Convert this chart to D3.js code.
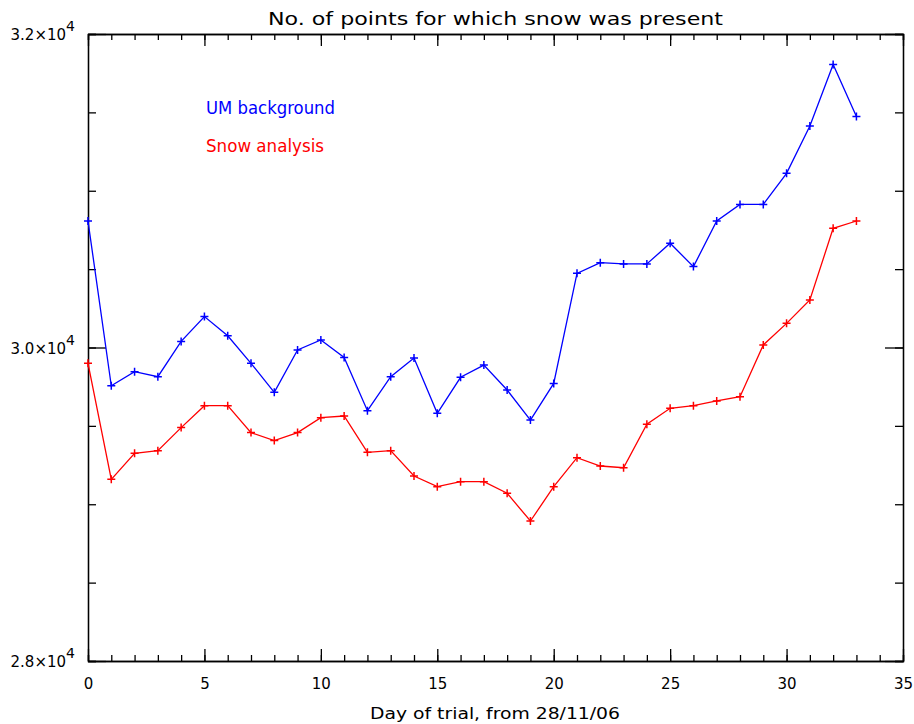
<!DOCTYPE html>
<html>
<head>
<meta charset="utf-8">
<script src="https://cdn.jsdelivr.net/npm/d3@7"></script>
<style>
  body { margin: 0; background: #fff; }
  text { font-family: "DejaVu Sans", sans-serif; fill: #000; }
</style>
</head>
<body>
<div id="chart"></div>
<script>
// days of the trial
const days = d3.range(0, 34);

// UM background (blue)
const umBackground = [
  30807, 29756, 29846, 29814, 30039, 30197, 30075, 29899, 29714, 29984,
  30048, 29937, 29597, 29814, 29933, 29580, 29810, 29888, 29729, 29537,
  29771, 30473, 30541, 30533, 30533, 30665, 30516, 30807, 30913, 30913,
  31111, 31413, 31806, 31473
];

// Snow analysis (red)
const snowAnalysis = [
  29899, 29159, 29325, 29342, 29489, 29629, 29629, 29457, 29406, 29457,
  29552, 29563, 29331, 29342, 29180, 29112, 29144, 29144, 29070, 28893,
  29112, 29297, 29244, 29233, 29510, 29612, 29629, 29659, 29686, 30016,
  30154, 30303, 30760, 30807
];

const xMajorTicks = [0, 5, 10, 15, 20, 25, 30, 35];
const xMinorTicks = d3.range(0, 36);
const yMajorTicks = [28000, 30000, 32000];
const yMajorLabels = ["2.8", "3.0", "3.2"];
const yMinorTicks = d3.range(28000, 32001, 500);

const width = 914, height = 724;
const margin = { top: 34, right: 11, bottom: 63, left: 88 };
const plotW = width - margin.left - margin.right;
const plotH = height - margin.top - margin.bottom;

const svg = d3.select("#chart").append("svg")
  .attr("width", width)
  .attr("height", height);

const g = svg.append("g")
  .attr("transform", `translate(${margin.left},${margin.top})`);

const x = d3.scaleLinear().domain([0, 35]).range([0, plotW]);
const y = d3.scaleLinear().domain([28000, 32000]).range([plotH, 0]);

// 坐標軸 (ticks point inward on all four sides)
function styleAxis(sel) {
  sel.select(".domain").attr("stroke", "#000").attr("stroke-width", 1.3);
  sel.selectAll(".tick line").attr("stroke", "#000").attr("stroke-width", 1.3);
}

// bottom
g.append("g").attr("transform", `translate(0,${plotH})`)
  .call(d3.axisBottom(x).tickValues(xMinorTicks).tickSize(-6).tickFormat(""))
  .call(styleAxis);
g.append("g").attr("transform", `translate(0,${plotH})`)
  .call(d3.axisBottom(x).tickValues(xMajorTicks).tickSizeInner(-12).tickSizeOuter(0)
    .tickPadding(17).tickFormat(d3.format("d")))
  .call(styleAxis)
  .selectAll("text").style("font-size", "15px");

// top
g.append("g")
  .call(d3.axisTop(x).tickValues(xMinorTicks).tickSize(-6).tickFormat(""))
  .call(styleAxis);
g.append("g")
  .call(d3.axisTop(x).tickValues(xMajorTicks).tickSizeInner(-12).tickSizeOuter(0).tickFormat(""))
  .call(styleAxis);

// left
g.append("g")
  .call(d3.axisLeft(y).tickValues(yMinorTicks).tickSize(-8).tickFormat(""))
  .call(styleAxis);
g.append("g")
  .call(d3.axisLeft(y).tickValues(yMajorTicks).tickSizeInner(-18).tickSizeOuter(0).tickFormat(""))
  .call(styleAxis);

// right
g.append("g").attr("transform", `translate(${plotW},0)`)
  .call(d3.axisRight(y).tickValues(yMinorTicks).tickSize(-8).tickFormat(""))
  .call(styleAxis);
g.append("g").attr("transform", `translate(${plotW},0)`)
  .call(d3.axisRight(y).tickValues(yMajorTicks).tickSizeInner(-18).tickSizeOuter(0).tickFormat(""))
  .call(styleAxis);

// y labels  a.b×10^4
const yLab = g.selectAll(".ylab")
  .data(yMajorTicks)
  .enter()
  .append("text")
  .attr("class", "ylab")
  .attr("x", -13)
  .attr("y", (d) => y(d) + 6)
  .attr("text-anchor", "end")
  .style("font-size", "15px");
yLab.append("tspan").text((d, i) => yMajorLabels[i] + "×10");
yLab.append("tspan").attr("dy", -9).style("font-size", "14px").text("4");

// 線條
const line = d3.line()
  .x((d, i) => x(days[i]))
  .y((d) => y(d));

function drawSeries(values, color) {
  g.append("path")
    .datum(values)
    .attr("fill", "none")
    .attr("stroke", color)
    .attr("stroke-width", 1.3)
    .attr("d", line);

  const s = 4;
  g.selectAll(null)
    .data(values)
    .enter()
    .append("path")
    .attr("fill", "none")
    .attr("stroke", color)
    .attr("stroke-width", 1.5)
    .attr("d", (d, i) => {
      const cx = x(days[i]), cy = y(d);
      return `M${cx - s},${cy}H${cx + s}M${cx},${cy - s}V${cy + s}`;
    });
}

drawSeries(umBackground, "#0000ff");
drawSeries(snowAnalysis, "#ff0000");

// legend
svg.append("text")
  .attr("x", 206).attr("y", 114)
  .attr("textLength", 129).attr("lengthAdjust", "spacingAndGlyphs")
  .style("font-size", "17px").style("fill", "#0000ff")
  .text("UM background");
svg.append("text")
  .attr("x", 206).attr("y", 152)
  .attr("textLength", 118).attr("lengthAdjust", "spacingAndGlyphs")
  .style("font-size", "17px").style("fill", "#ff0000")
  .text("Snow analysis");

// title
svg.append("text")
  .attr("x", 268).attr("y", 25)
  .attr("textLength", 455).attr("lengthAdjust", "spacingAndGlyphs")
  .style("font-size", "18px")
  .text("No. of points for which snow was present");

// x title
svg.append("text")
  .attr("x", 370).attr("y", 719)
  .attr("textLength", 250).attr("lengthAdjust", "spacingAndGlyphs")
  .style("font-size", "16px")
  .text("Day of trial, from 28/11/06");
</script>
</body>
</html>
